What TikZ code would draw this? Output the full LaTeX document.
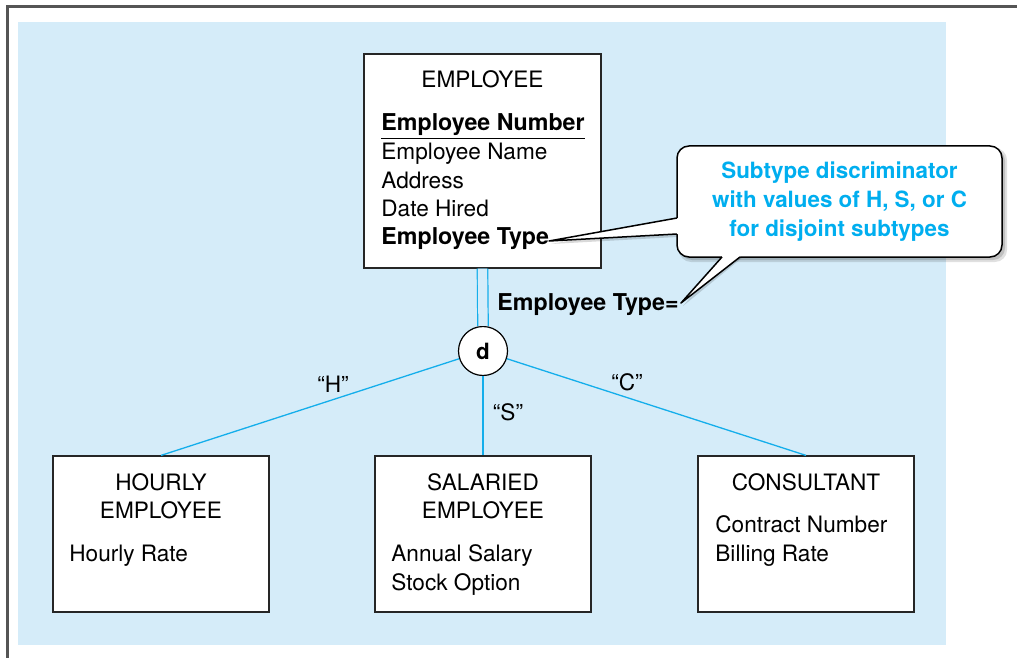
\documentclass[tikz,border=0pt]{standalone}
\usepackage{fontspec}
\setmainfont{TeX Gyre Heros}
\usetikzlibrary{calc}
\definecolor{bgblue}{RGB}{213,236,249}
\definecolor{lineblue}{RGB}{20,174,235}
\definecolor{calltext}{RGB}{0,174,239}
\definecolor{framegray}{RGB}{85,85,85}
\tikzset{
  every node/.style={font=\fontsize{11.3}{14}\selectfont, inner sep=0pt},
  boldtxt/.style={font=\fontsize{11.2}{14.5}\selectfont\bfseries},
  boldattr/.style={font=\fontsize{11.6}{14.5}\selectfont\bfseries},
  entity/.style={draw=black!85, line width=0.6pt, fill=white, rectangle,
    minimum width=108pt, minimum height=78pt},
  conn/.style={draw=lineblue, line width=0.65pt},
  txt/.style={anchor=base},
  attr/.style={anchor=base west},
}
\begin{document}
\begin{tikzpicture}[x=0.5pt,y=-0.5pt]
\useasboundingbox (0,0) rectangle (1017,658);
\fill[bgblue] (18,22) rectangle (946,645);
\draw[framegray, line width=1.5pt] (7,658) -- (7,7) -- (1017,7);

% supertype
\node[entity, minimum width=118.5pt, minimum height=107pt] (emp) at (482.5,161) {};
\node[txt] (empT) at (482.5,88) {EMPLOYEE};
\node[attr, boldattr] (a1) at (381,131) {\underline{Employee Number}};
\node[attr] (a2) at (381,160) {Employee Name};
\node[attr] (a3) at (381,188) {Address};
\node[attr] (a4) at (381,216) {Date Hired};
\node[attr, boldattr] (a5) at (381,244) {Employee Type};

% subtypes
\node[entity] (hourly) at (161,534) {};
\node[txt] (hT1) at (161,490) {HOURLY};
\node[txt] (hT2) at (161,518) {EMPLOYEE};
\node[attr] (h1) at (69,561) {Hourly Rate};

\node[entity] (salaried) at (483,534) {};
\node[txt] (sT1) at (483,490) {SALARIED};
\node[txt] (sT2) at (483,518) {EMPLOYEE};
\node[attr] (s1) at (391,561) {Annual Salary};
\node[attr] (s2) at (391,590) {Stock Option};

\node[entity] (consult) at (806,534) {};
\node[txt] (cT1) at (806,490) {CONSULTANT};
\node[attr] (c1) at (715,532) {Contract Number};
\node[attr] (c2) at (715,561) {Billing Rate};

% disjoint circle
\node[circle, draw=black, fill=white, line width=0.6pt, minimum size=24.5pt, boldtxt] (d) at (483,351) {d};
\draw[lineblue, line width=0.6pt, double=bgblue, double distance=4.65pt] (emp.south) -- (d.north);
\draw[conn] (d) -- (hourly.north);
\draw[conn] (d) -- (salaried.north);
\draw[conn] (d) -- (consult.north);

\node[txt] (lH) at (333,392) {“H”};
\node[txt] (lS) at (508,420) {“S”};
\node[txt] (lC) at (627,390) {“C”};

\node[attr, boldattr] (eq) at (497,310) {Employee Type=};

% callout
\coordinate (tip1) at (549,241);
\coordinate (tip2) at (681,303);
\coordinate (w1a) at (677,218);
\coordinate (w1b) at (677,234);
\coordinate (w2a) at (722,257);
\coordinate (w2b) at (740,257);
\fill[black, opacity=0.12, rounded corners=6pt] (679,148) rectangle (1007,262);
\fill[black, opacity=0.15, rounded corners=6pt] (680,149) rectangle (1005,260);
\fill[black, opacity=0.15] (677,221) -- (551,244) -- (677,237) -- cycle;
\fill[black, opacity=0.15] (725,257) -- (683,306) -- (743,257) -- cycle;
\node[draw=black, line width=0.75pt, fill=white, rounded corners=6pt,
  minimum width=162.5pt, minimum height=55.5pt, align=center, text=calltext, boldtxt]
  (call) at (839.5,201.5) {Subtype discriminator\\with values of H, S, or C\\for disjoint subtypes};
\fill[white] ($(w1a)+(4,0)$) -- (w1a) -- (tip1) -- (w1b) -- ($(w1b)+(4,0)$) -- cycle;
\draw[black, line width=0.75pt, line join=round] (w1a) -- (tip1) -- (w1b);
\fill[white] ($(w2a)+(0,-4)$) -- (w2a) -- (tip2) -- (w2b) -- ($(w2b)+(0,-4)$) -- cycle;
\draw[black, line width=0.75pt, line join=round] (w2a) -- (tip2) -- (w2b);
\end{tikzpicture}
\end{document}
